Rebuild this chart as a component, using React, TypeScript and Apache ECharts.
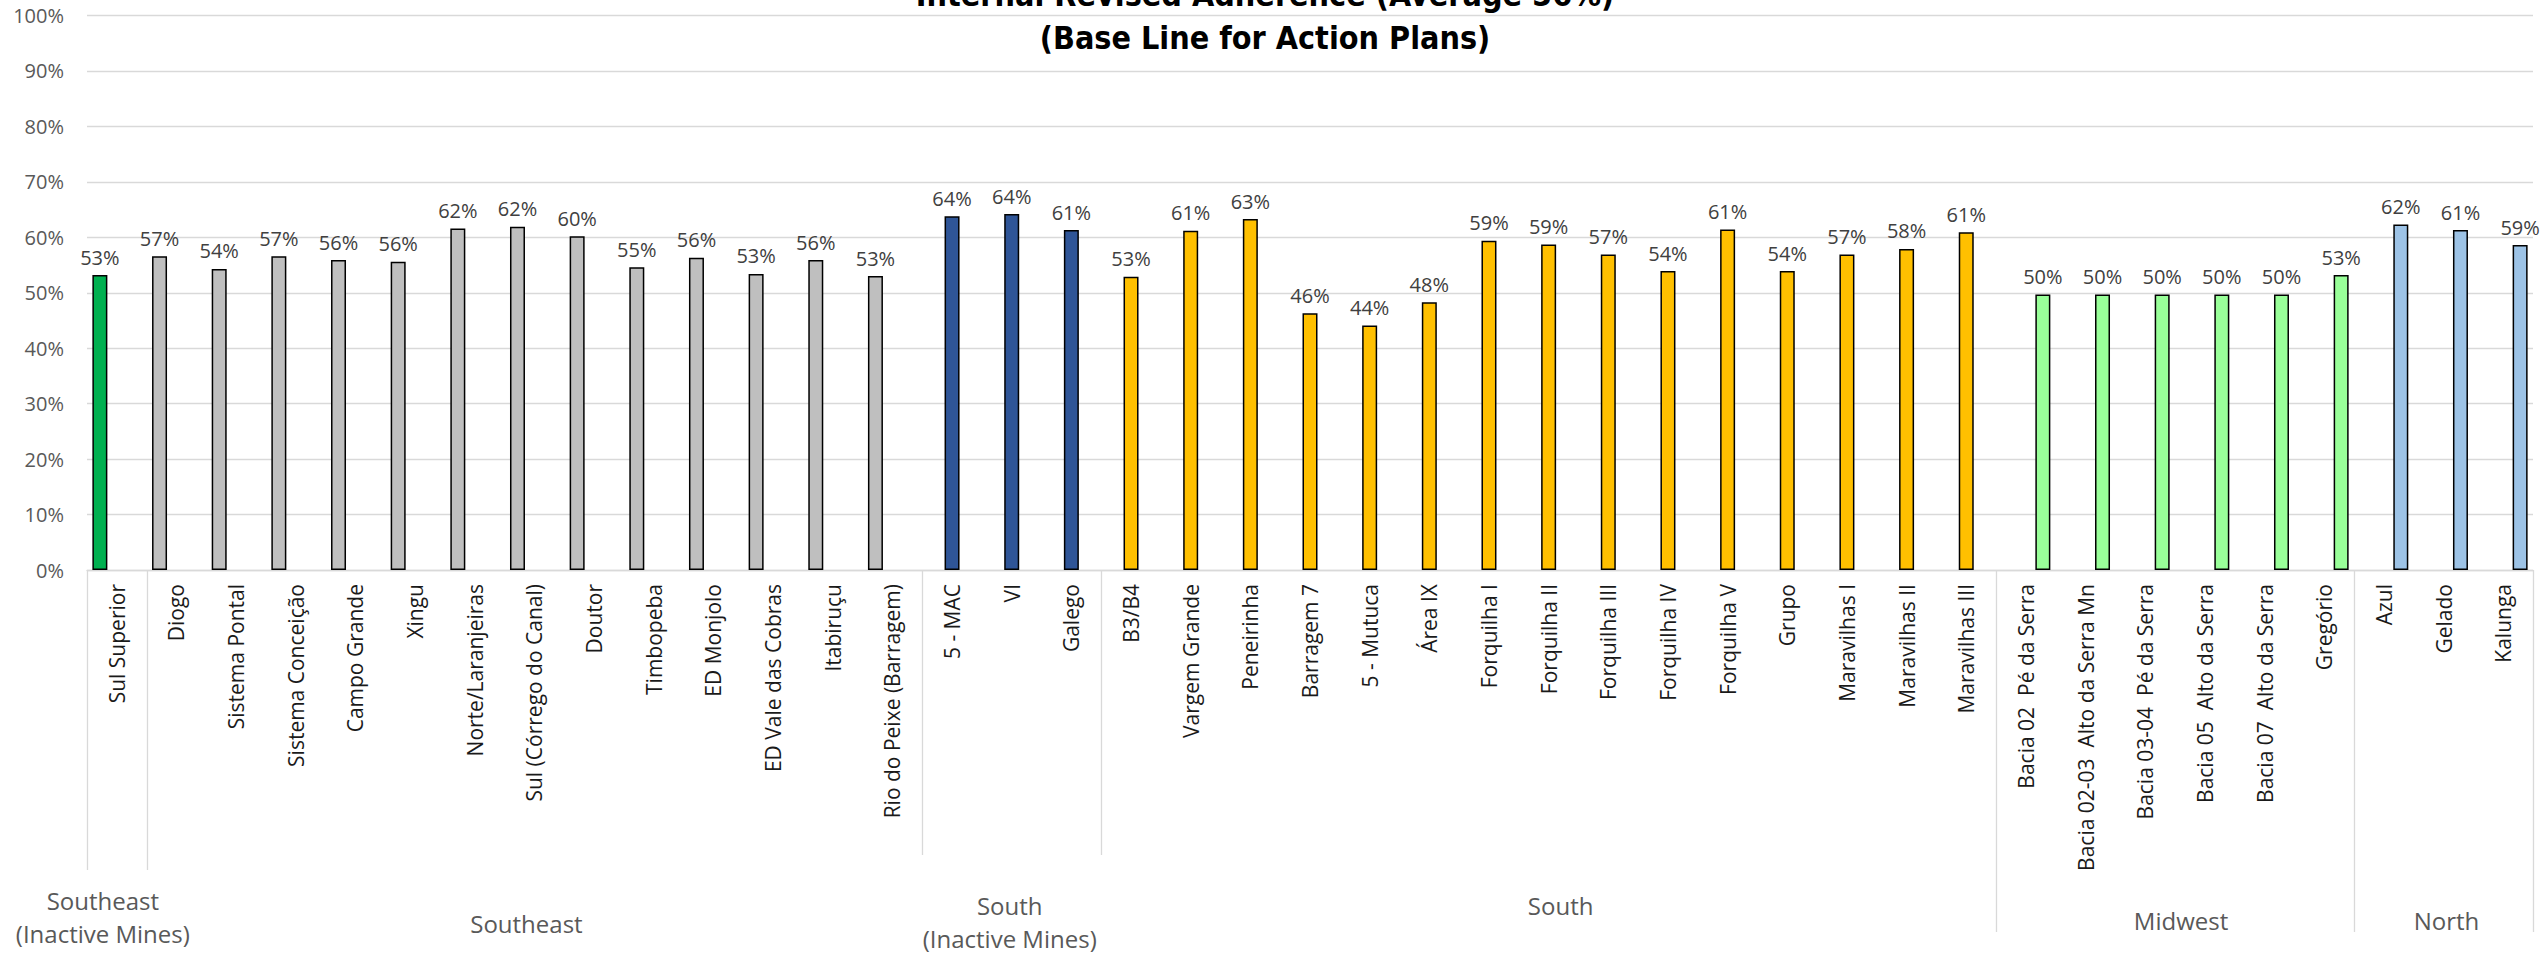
import React, { useEffect, useRef } from "react";
import * as echarts from "echarts";

const categories = [
  "Sul Superior",
  "Diogo", "Sistema Pontal", "Sistema Conceição", "Campo Grande", "Xingu", "Norte/Laranjeiras",
  "Sul (Córrego do Canal)", "Doutor", "Timbopeba", "ED Monjolo", "ED Vale das Cobras", "Itabiruçu",
  "Rio do Peixe (Barragem)",
  "5 - MAC", "VI", "Galego",
  "B3/B4", "Vargem Grande", "Peneirinha", "Barragem 7", "5 - Mutuca", "Área IX", "Forquilha I",
  "Forquilha II", "Forquilha III", "Forquilha IV", "Forquilha V", "Grupo", "Maravilhas I",
  "Maravilhas II", "Maravilhas III",
  "Bacia 02  Pé da Serra", "Bacia 02-03  Alto da Serra Mn", "Bacia 03-04  Pé da Serra",
  "Bacia 05  Alto da Serra", "Bacia 07  Alto da Serra", "Gregório",
  "Azul", "Gelado", "Kalunga",
];

// adherence, %
const values = [
  53.2,
  56.6, 54.3, 56.6, 55.9, 55.6, 61.6, 61.9, 60.2, 54.6, 56.3, 53.4, 55.9, 53.0,
  63.8, 64.2, 61.3,
  52.9, 61.2, 63.3, 46.3, 44.1, 48.3, 59.4, 58.7, 56.9, 53.9, 61.4, 53.9, 56.9, 57.9, 60.9,
  49.7, 49.7, 49.7, 49.7, 49.7, 53.2,
  62.3, 61.3, 58.6,
];

const groupNames = [
  "Southeast\n(Inactive Mines)",
  "Southeast",
  "South\n(Inactive Mines)",
  "South",
  "Midwest",
  "North",
];
const groupSizes = [1, 13, 3, 15, 6, 3];
const groupSeries = [0, 0, 1, 1, 2, 2];
const groupColors = ["#00B050", "#BFBFBF", "#2F5597", "#FFC000", "#99FF99", "#9DC3E6"];

const titleLines = ["Internal Revised Adherence (Average 56%)", "(Base Line for Action Plans)"];

// layout (pixels)
const groupLabelY = [916.5, 923, 921.5, 905, 920, 920];
const groupLabelDX = [-14, -8, -2, 12, 6, 3];
const dividerBottom = [870, 870, 855, 855, 932, 932, 932];

const FONT = '"Open Sans", "Noto Sans", sans-serif';

export default function App() {
  const ref = useRef<HTMLDivElement>(null);

  useEffect(() => {
    if (!ref.current) return;
    const chart = echarts.init(ref.current, undefined, { renderer: "svg" });

    const groupOf: number[] = [];
    groupSizes.forEach((n, g) => {
      for (let k = 0; k < n; k++) groupOf.push(g);
    });

    const series = [0, 1, 2].map((s) => ({
      type: "bar",
      name: "S" + s,
      barWidth: 15,
      barGap: "13%",
      data: categories.map((_, i) =>
        groupSeries[groupOf[i]] === s
          ? { value: values[i], itemStyle: { color: groupColors[groupOf[i]] } }
          : "-"
      ),
      itemStyle: { borderColor: "#000", borderWidth: 1.5 },
      label: {
        show: true,
        position: "top",
        distance: 8,
        formatter: (p: any) => Math.round(p.value) + "%",
        fontFamily: FONT,
        fontSize: 20,
        color: "#404040",
      },
    }));

    chart.setOption({
      animation: false,
      backgroundColor: "#fff",
      grid: { left: 87, right: 11, top: 15.5, bottom: 384, containLabel: false },
      xAxis: {
        type: "category",
        data: categories,
        axisLine: { show: true, lineStyle: { color: "#D9D9D9", width: 1.3 } },
        axisTick: { show: false },
        axisLabel: {
          interval: 0,
          rotate: 90,
          margin: 14,
          fontFamily: FONT,
          fontSize: 21,
          color: "#1a1a1a",
        },
      },
      yAxis: {
        type: "value",
        min: 0,
        max: 100,
        interval: 10,
        axisLine: { show: false },
        axisTick: { show: false },
        splitLine: { lineStyle: { color: "#D9D9D9", width: 1.3 } },
        axisLabel: {
          formatter: "{value}%",
          margin: 23,
          fontFamily: FONT,
          fontSize: 20,
          color: "#595959",
        },
      },
      series,
    });

    const x0 = chart.convertToPixel({ xAxisIndex: 0 }, 0) as number;
    const x1 = chart.convertToPixel({ xAxisIndex: 0 }, 1) as number;
    const w = x1 - x0;
    const left = x0 - w / 2;
    const axisY = chart.convertToPixel({ yAxisIndex: 0 }, 0) as number;

    const bounds: number[] = [0];
    groupSizes.forEach((n) => bounds.push(bounds[bounds.length - 1] + n));

    const elements: any[] = [];
    bounds.forEach((b, k) => {
      const x = Math.round(left + b * w) + 0.5;
      elements.push({
        type: "line",
        silent: true,
        shape: { x1: x, y1: axisY, x2: x, y2: dividerBottom[k] },
        style: { stroke: "#D9D9D9", lineWidth: 1.3 },
      });
    });
    groupNames.forEach((name, g) => {
      const cx = left + ((bounds[g] + bounds[g + 1]) / 2) * w + groupLabelDX[g];
      elements.push({
        type: "text",
        silent: true,
        style: {
          text: name,
          x: cx,
          y: groupLabelY[g],
          align: "center",
          verticalAlign: "middle",
          textAlign: "center",
          textVerticalAlign: "middle",
          fontFamily: FONT,
          fontSize: 24,
          lineHeight: 33,
          fill: "#595959",
        },
      });
    });
    const titleFont = '"Liberation Sans Narrow", "Arial Narrow", "DejaVu Sans Condensed", Roboto, sans-serif';
    titleLines.forEach((t, k) => {
      elements.push({
        type: "text",
        silent: true,
        style: {
          text: t,
          x: 1265,
          y: k === 0 ? -5 : 38,
          align: "center",
          verticalAlign: "middle",
          textAlign: "center",
          textVerticalAlign: "middle",
          fontFamily: titleFont,
          fontWeight: "bold",
          fontSize: 32,
          fill: "#000",
        },
      });
    });

    chart.setOption({ graphic: { elements } });

    return () => chart.dispose();
  }, []);

  return (
    <div
      ref={ref}
      style={{ position: "fixed", left: 0, top: 0, width: 2544, height: 954, background: "#fff" }}
    />
  );
}
